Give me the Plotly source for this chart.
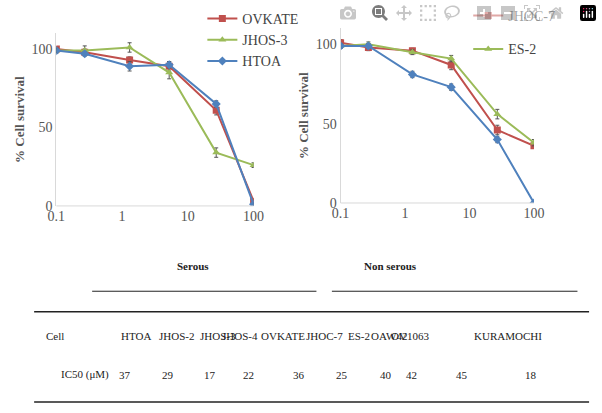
import plotly.graph_objects as go

conc = [0.1, 0.27, 1.3, 5.2, 27, 100]
ovkate = [100, 98, 93, 89, 61, 3]
jhos3 = [99, 99, 101, 85, 34, 26]
htoa = [99, 97, 89, 90, 65, 1]
ovkate_err = [1.5, 2, 2, 3, 3, 1.5]
jhos3_err = [1.5, 3, 3, 4, 3, 1.5]
htoa_err = [1.5, 1.5, 3, 2, 2, 1]
jhoc7 = [101, 98, 96, 87, 46, 36]
es2 = [99, 100, 95, 91, 56, 38]
other = [99, 99, 81, 73, 40, 0]
jhoc7_err = [2, 2, 1.5, 3, 3, 1.5]
es2_err = [1.5, 1.5, 1.5, 2, 3, 2]
other_err = [1.5, 1.5, 2, 2, 2, 0]

cells = ["HTOA", "JHOS-2", "JHOS-3", "JHOS-4", "OVKATE", "JHOC-7", "ES-2", "OAW42", "OV1063", "KURAMOCHI"]
ic50 = [37, 29, 17, 22, 36, 25, 40, 42, 45, 18]
cell_px = [114, 153, 195, 239, 283, 326, 362, 393, 436, 553]
ic50_px = [112, 156, 200, 248, 300, 344, 390, 424, 477, 548]

RED, GREEN, BLUE = "#C0504D", "#9BBB59", "#4F81BD"
W, H = 602, 413
FONT = "Liberation Serif, Times New Roman, serif"

def px(x): return x / W
def py(y): return 1 - y / H

fig = go.Figure()

def add(x, y, e, name, color, sym, xa, ya, legend, show=True):
    fig.add_trace(go.Scatter(x=x, y=y, name=name, mode="lines+markers",
        line=dict(color=color, width=2), marker=dict(symbol=sym, size=7, color=color),
        error_y=dict(type="data", array=e, color="#555", thickness=1, width=2),
        xaxis=xa, yaxis=ya, legend=legend, showlegend=show))

add(conc, ovkate, ovkate_err, "OVKATE", RED, "square", "x", "y", "legend")
add(conc, jhos3, jhos3_err, "JHOS-3", GREEN, "triangle-up", "x", "y", "legend")
add(conc, htoa, htoa_err, "HTOA", BLUE, "diamond", "x", "y", "legend")
add(conc, jhoc7, jhoc7_err, "JHOC-7", RED, "square", "x2", "y2", "legend2")
add(conc, es2, es2_err, "ES-2", GREEN, "triangle-up", "x2", "y2", "legend3")
add(conc, other, other_err, "", BLUE, "diamond", "x2", "y2", "legend3", show=False)

ax = dict(type="log", range=[-1, 2], tickvals=[0.1, 1, 10, 100], ticktext=["0.1", "1", "10", "100"],
          showgrid=False, zeroline=False, showline=False, ticks="",
          tickfont=dict(family=FONT, size=14, color="#555"))
ay = dict(range=[0, 110], tickvals=[0, 50, 100], showgrid=False, zeroline=False,
          showline=True, linecolor="#d9d9d9", ticks="",
          tickfont=dict(family=FONT, size=14, color="#555"),
          title=dict(text="<b>% Cell survival</b>", font=dict(family=FONT, size=13, color="#555"), standoff=4))

fig.update_layout(
    width=W, height=H, margin=dict(l=0, r=0, t=0, b=0),
    plot_bgcolor="white", paper_bgcolor="white",
    xaxis=dict(ax, domain=[px(49), px(253)], anchor="y"),
    yaxis=dict(ay, domain=[py(210), py(34)], anchor="x"),
    xaxis2=dict(ax, domain=[px(343), px(543)], anchor="y2"),
    yaxis2=dict(ay, domain=[py(207), py(29)], anchor="x2"),
    legend=dict(x=px(200), y=py(3), xanchor="left", yanchor="top", bgcolor="rgba(0,0,0,0)",
                font=dict(family=FONT, size=14, color="#444"), tracegroupgap=0),
    legend2=dict(x=px(475), y=py(0), xanchor="left", yanchor="top", bgcolor="rgba(0,0,0,0)",
                 font=dict(family=FONT, size=14, color="#444")),
    legend3=dict(x=px(475), y=py(34), xanchor="left", yanchor="top", bgcolor="rgba(0,0,0,0)",
                 font=dict(family=FONT, size=14, color="#444")),
)

for xa0, xa1, yy in [(49, 253, 210), (343, 543, 207)]:
    fig.add_shape(type="line", xref="paper", yref="paper", x0=px(xa0), x1=px(xa1), y0=py(yy), y1=py(yy),
                  line=dict(color="#d9d9d9", width=1))

def txt(x, y, s, size=11, bold=False):
    fig.add_annotation(x=px(x), y=py(y), xref="paper", yref="paper", text=f"<b>{s}</b>" if bold else s,
                       showarrow=False, font=dict(family=FONT, size=size, color="#222"))

def hline(x0, x1, y, w=1):
    fig.add_shape(type="line", xref="paper", yref="paper", x0=px(x0), x1=px(x1), y0=py(y), y1=py(y),
                  line=dict(color="#222", width=w))

txt(172, 279, "Serous", 11, True)
txt(424, 279, "Non serous", 11, True)
hline(86, 318, 297)
hline(334, 588, 297)
hline(26, 600, 318, 1.5)
hline(26, 600, 410, 1.5)
txt(36, 351, "Cell")
txt(52, 391, "IC50 (μM)")
for c, xpx in zip(cells, cell_px):
    txt(xpx, 351, c)
for v, xpx in zip(ic50, ic50_px):
    txt(xpx, 391, str(v))

fig.write_html("out.html",
    post_script="document.body.style.margin='0';document.body.style.overflow='hidden';"
                "document.documentElement.style.overflow='hidden';")
